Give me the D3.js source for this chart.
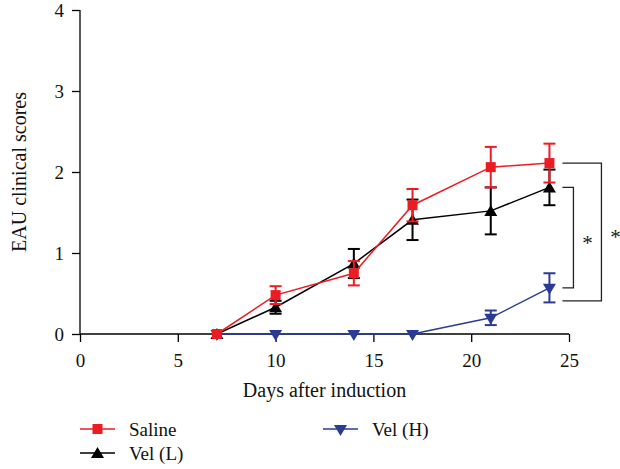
<!DOCTYPE html>
<html>
<head>
<meta charset="utf-8">
<script src="https://cdn.jsdelivr.net/npm/d3@7"></script>
<style>
  body { margin: 0; background: #fff; }
  svg { font-family: "Liberation Serif", "DejaVu Serif", serif; }
</style>
</head>
<body>
<svg id="svg" width="620" height="469"></svg>
<script>
const days = [7, 10, 14, 17, 21, 24];

const saline = [0, 0.48, 0.75, 1.59, 2.06, 2.11];
const salineErr = [0, 0.11, 0.15, 0.2, 0.25, 0.24];

const velL = [0, 0.33, 0.87, 1.41, 1.52, 1.81];
const velLErr = [0, 0.08, 0.18, 0.25, 0.29, 0.22];

const velH = [0, 0, 0, 0, 0.2, 0.57];
const velHErr = [0, 0, 0, 0, 0.09, 0.18];

const xTicks = [0, 5, 10, 15, 20, 25];
const yTicks = [0, 1, 2, 3, 4];

const series = [
  { name: "Vel (H)", values: velH, err: velHErr, color: "#2a3b96", symbol: "down" },
  { name: "Vel (L)", values: velL, err: velLErr, color: "#000000", symbol: "up" },
  { name: "Saline", values: saline, err: salineErr, color: "#ec1c24", symbol: "square" }
];

// significance brackets: [upper value, lower value, bracket x offset]
const brackets = [
  { top: 1.81, bottom: 0.57, reach: 11 },
  { top: 2.11, bottom: 0.41, reach: 39 }
];

const svg = d3.select("#svg");

const x = d3.scaleLinear().domain([0, 25]).range([80, 569]);
const y = d3.scaleLinear().domain([0, 4]).range([334, 10]);

// axes
const xAxis = svg.append("g")
  .attr("transform", `translate(0,${y(0)})`)
  .call(d3.axisBottom(x).tickValues(xTicks).tickFormat(d3.format("d")).tickSize(8).tickPadding(12));
const yAxis = svg.append("g")
  .attr("transform", `translate(${x(0)},0)`)
  .call(d3.axisLeft(y).tickValues(yTicks).tickFormat(d3.format("d")).tickSize(8).tickPadding(8));

[xAxis, yAxis].forEach(g => {
  g.attr("font-size", null).attr("font-family", null);
  g.select(".domain").attr("stroke", "#000").attr("stroke-width", 1.3);
  g.selectAll(".tick line").attr("stroke", "#000").attr("stroke-width", 1.3);
  g.selectAll(".tick text")
    .attr("fill", "#111")
    .style("font-size", "19px");
});
// remove the outer tick stubs of the domain path
xAxis.select(".domain").attr("d", `M${x(0)},0H${x(25)}`);
yAxis.select(".domain").attr("d", `M0,${y(4)}V${y(0)}`);

svg.append("text")
  .attr("x", (x(0) + x(25)) / 2)
  .attr("y", 397)
  .attr("text-anchor", "middle")
  .style("font-size", "20px")
  .attr("fill", "#111")
  .text("Days after induction");

svg.append("text")
  .attr("transform", `translate(26,${y(2)}) rotate(-90)`)
  .attr("text-anchor", "middle")
  .style("font-size", "20px")
  .attr("fill", "#111")
  .text("EAU clinical scores");

function symbolPath(sym) {
  if (sym === "square") return "M-5,-5H5V5H-5Z";
  if (sym === "up") return "M0,-6L6.5,5H-6.5Z";
  return "M0,7L6.5,-4H-6.5Z";
}

const line = d3.line().x(d => x(d[0])).y(d => y(d[1]));

series.forEach(s => {
  const pts = days.map((d, i) => [d, s.values[i], s.err[i]]);
  const g = svg.append("g");

  g.append("path")
    .datum(pts)
    .attr("d", line)
    .attr("fill", "none")
    .attr("stroke", s.color)
    .attr("stroke-width", 1.5);

  const eb = g.selectAll(".eb")
    .data(pts.filter(p => p[2] > 0))
    .join("g")
    .attr("stroke", s.color)
    .attr("stroke-width", 2);
  eb.append("line")
    .attr("x1", d => x(d[0])).attr("x2", d => x(d[0]))
    .attr("y1", d => y(d[1] - d[2])).attr("y2", d => y(d[1] + d[2]));
  eb.append("line")
    .attr("x1", d => x(d[0]) - 6).attr("x2", d => x(d[0]) + 6)
    .attr("y1", d => y(d[1] + d[2])).attr("y2", d => y(d[1] + d[2]));
  eb.append("line")
    .attr("x1", d => x(d[0]) - 6).attr("x2", d => x(d[0]) + 6)
    .attr("y1", d => y(d[1] - d[2])).attr("y2", d => y(d[1] - d[2]));

  g.selectAll(".mk")
    .data(pts)
    .join("path")
    .attr("d", symbolPath(s.symbol))
    .attr("transform", d => `translate(${x(d[0])},${y(d[1])})`)
    .attr("fill", s.color);
});

// brackets
const bx = x(24) + 13;
brackets.forEach(b => {
  svg.append("path")
    .attr("d", `M${bx},${y(b.top)}H${bx + b.reach}V${y(b.bottom)}H${bx}`)
    .attr("fill", "none")
    .attr("stroke", "#222")
    .attr("stroke-width", 1.3);
  svg.append("text")
    .attr("x", bx + b.reach + 14)
    .attr("y", (y(b.top) + y(b.bottom)) / 2 + 12)
    .attr("text-anchor", "middle")
    .style("font-size", "21px")
    .attr("fill", "#222")
    .text("*");
});

// legend
const legendItems = [
  { s: series[2], lx: 80, ly: 429 },
  { s: series[1], lx: 80, ly: 453 },
  { s: series[0], lx: 323, ly: 429 }
];
legendItems.forEach(({ s, lx, ly }) => {
  const w = 35;
  svg.append("line")
    .attr("x1", lx).attr("x2", lx + w)
    .attr("y1", ly).attr("y2", ly)
    .attr("stroke", s.color).attr("stroke-width", 1.5);
  svg.append("path")
    .attr("d", symbolPath(s.symbol))
    .attr("transform", `translate(${lx + w / 2},${ly})`)
    .attr("fill", s.color);
  svg.append("text")
    .attr("x", lx + w + 14)
    .attr("y", ly + 7)
    .style("font-size", "19px")
    .attr("fill", "#111")
    .text(s.name);
});
</script>
</body>
</html>
